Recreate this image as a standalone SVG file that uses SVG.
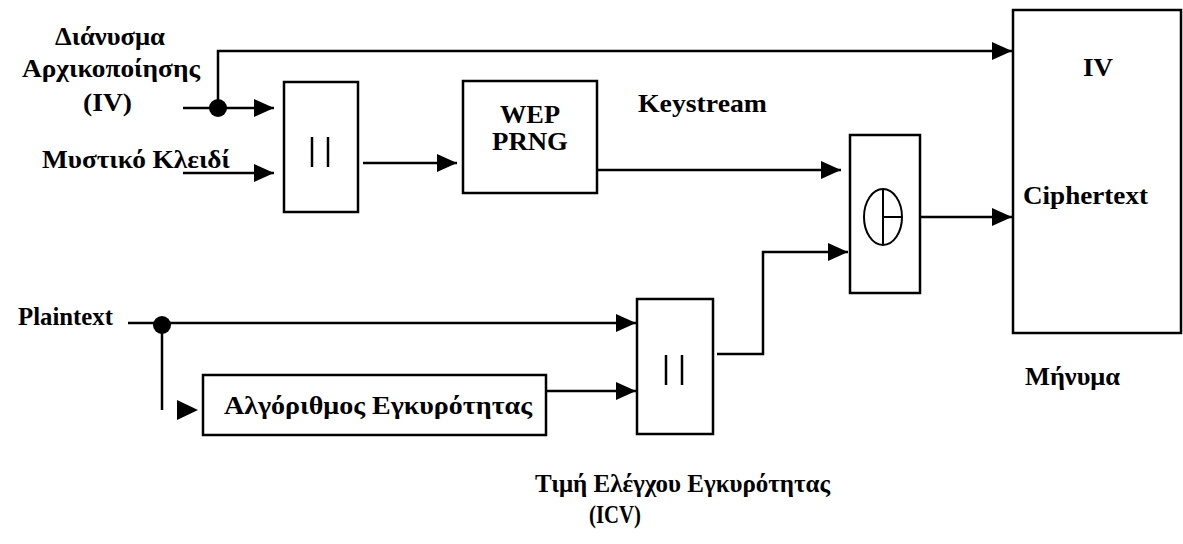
<svg xmlns="http://www.w3.org/2000/svg" width="1183" height="544" viewBox="0 0 1183 544">
<style>
.box{fill:none;stroke:#000;stroke-width:2.5}
.ln{fill:none;stroke:#000;stroke-width:2.5}
.lbl{font-family:"Liberation Serif","Times New Roman",serif;font-weight:bold;font-size:26px;fill:#000}
.mid{text-anchor:middle}
</style>
<defs>
<marker id="ah" markerWidth="20" markerHeight="20" refX="20" refY="10" orient="auto" markerUnits="userSpaceOnUse">
<path d="M0,1 L20,10 L0,19 z" fill="#000"/>
</marker>
</defs>
<rect width="1183" height="544" fill="#fff"/>

<g id="label-iv">
<text class="lbl" x="55" y="45" textLength="110" lengthAdjust="spacingAndGlyphs">Διάνυσμα</text>
<text class="lbl" x="22" y="77" textLength="178" lengthAdjust="spacingAndGlyphs">Αρχικοποίησης</text>
<text class="lbl" x="83" y="111" textLength="49" lengthAdjust="spacingAndGlyphs">(IV)</text>
</g>
<g id="label-key"><text class="lbl" x="42" y="168" textLength="188" lengthAdjust="spacingAndGlyphs">Μυστικό Κλειδί</text></g>
<g id="label-plaintext"><text class="lbl" x="18" y="325" textLength="95" lengthAdjust="spacingAndGlyphs">Plaintext</text></g>

<g id="concat1">
<rect class="box" x="284" y="82" width="74" height="130"/>
<line class="ln" x1="312" y1="137" x2="312" y2="167"/>
<line class="ln" x1="328" y1="137" x2="328" y2="167"/>
</g>

<g id="wep-prng">
<rect class="box" x="463" y="81" width="134" height="112"/>
<text class="lbl" x="500" y="123" textLength="60" lengthAdjust="spacingAndGlyphs">WEP</text>
<text class="lbl" x="492" y="150" textLength="76" lengthAdjust="spacingAndGlyphs">PRNG</text>
</g>

<g id="label-keystream"><text class="lbl" x="638" y="112" textLength="129" lengthAdjust="spacingAndGlyphs">Keystream</text></g>

<g id="xor">
<rect class="box" x="850" y="135" width="70" height="158"/>
<ellipse cx="883" cy="217" rx="19" ry="28" fill="none" stroke="#000" stroke-width="2"/>
<line x1="883" y1="189" x2="883" y2="245" stroke="#000" stroke-width="2"/>
<line x1="883" y1="217" x2="902" y2="217" stroke="#000" stroke-width="2"/>
</g>

<g id="message">
<rect class="box" x="1013" y="10" width="168" height="323"/>
<text class="lbl" x="1083" y="76" textLength="30" lengthAdjust="spacingAndGlyphs">IV</text>
<text class="lbl" x="1023" y="204" textLength="125" lengthAdjust="spacingAndGlyphs">Ciphertext</text>
<text class="lbl" x="1025" y="385" textLength="95" lengthAdjust="spacingAndGlyphs">Μήνυμα</text>
</g>

<g id="integrity-alg">
<rect class="box" x="203" y="375" width="343" height="60"/>
<text class="lbl" x="224" y="414" textLength="308" lengthAdjust="spacingAndGlyphs">Αλγόριθμος Εγκυρότητας</text>
</g>

<g id="concat2">
<rect class="box" x="637" y="299" width="76" height="135"/>
<line class="ln" x1="666" y1="355" x2="666" y2="385"/>
<line class="ln" x1="682" y1="355" x2="682" y2="385"/>
</g>

<g id="label-icv">
<text class="lbl" x="535" y="492" textLength="295" lengthAdjust="spacingAndGlyphs">Τιμή Ελέγχου Εγκυρότητας</text>
<text class="lbl" x="589" y="523" textLength="52" lengthAdjust="spacingAndGlyphs">(ICV)</text>
</g>

<g id="connectors">
<path class="ln" d="M183,108 L274,108" marker-end="url(#ah)"/>
<path class="ln" d="M218,108 L218,51 L1012,51" marker-end="url(#ah)"/>
<circle cx="218" cy="108" r="9" fill="#000"/>
<path class="ln" d="M183,173 L274,173" marker-end="url(#ah)"/>
<path class="ln" d="M363,163 L457,163" marker-end="url(#ah)"/>
<path class="ln" d="M597,170 L841,170" marker-end="url(#ah)"/>
<path class="ln" d="M920,217 L1012,217" marker-end="url(#ah)"/>
<path class="ln" d="M128,323 L636,323" marker-end="url(#ah)"/>
<circle cx="162" cy="325" r="9" fill="#000"/>
<path class="ln" d="M162,325 L162,410"/>
<path d="M177,400 L198,410 L177,420 z" fill="#000"/>
<path class="ln" d="M546,391 L636,391" marker-end="url(#ah)"/>
<path class="ln" d="M717,354 L763,354 L763,252 L848,252" marker-end="url(#ah)"/>
</g>
</svg>
